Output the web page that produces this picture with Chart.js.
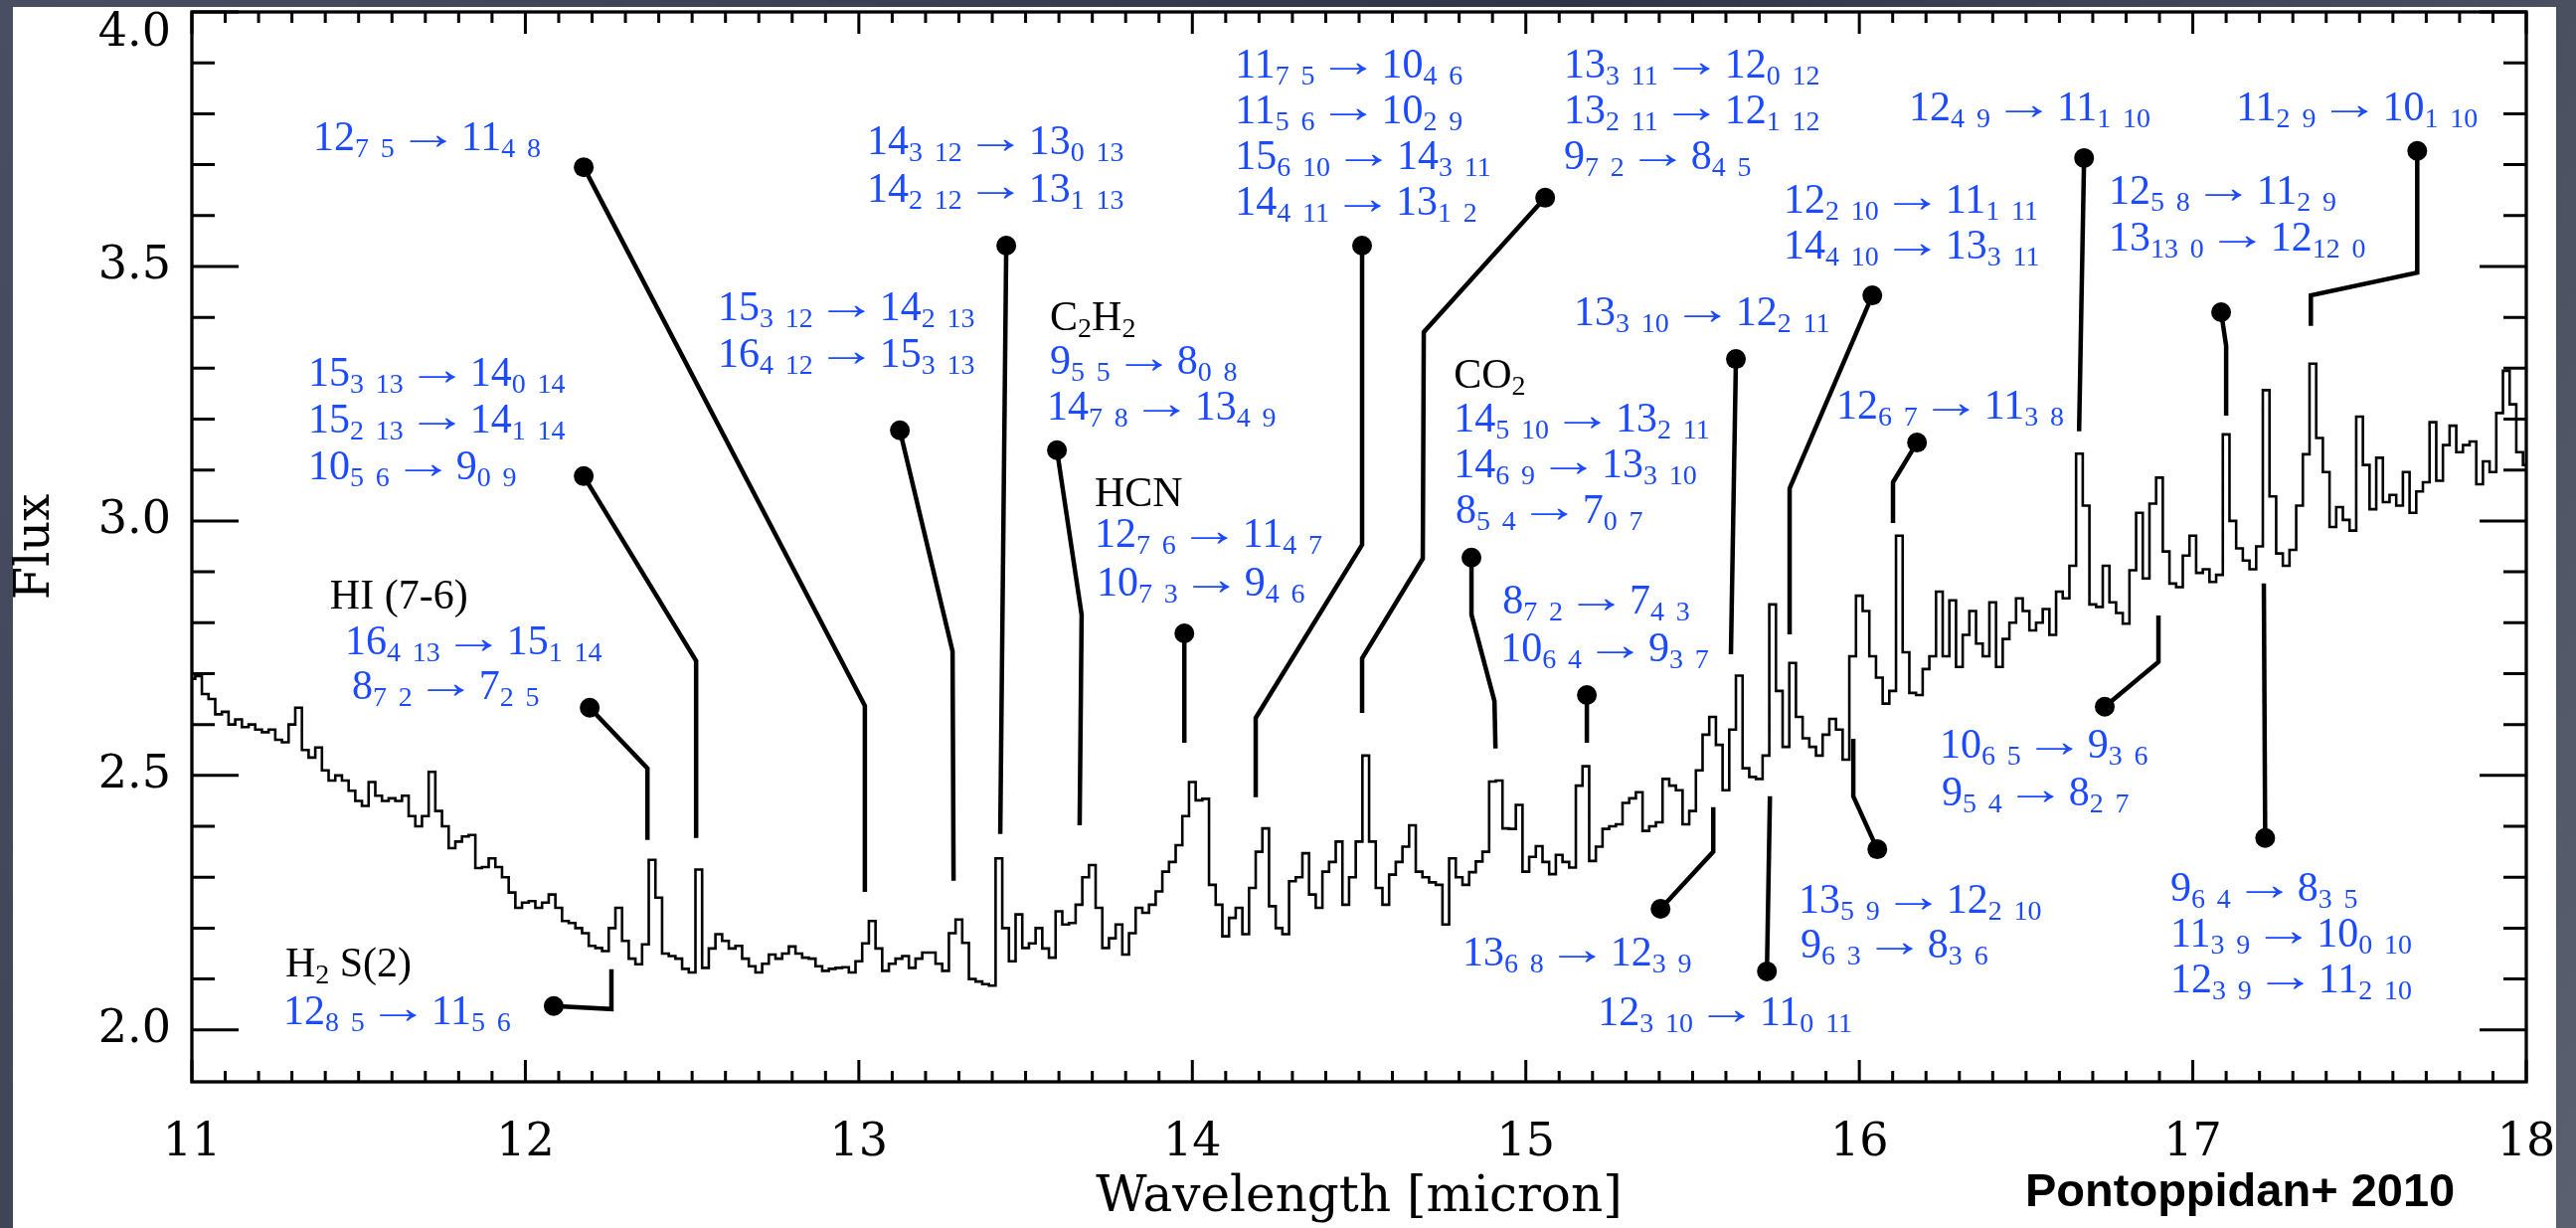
<!DOCTYPE html>
<html>
<head>
<meta charset="utf-8">
<script src="https://cdn.jsdelivr.net/npm/chart.js@4.4.1/dist/chart.umd.min.js"></script>
<style>
  html, body { margin: 0; padding: 0; background: #3b4150; overflow: hidden; }
  #wrap { width: 2591px; height: 1235px; position: relative; }
</style>
</head>
<body>
<div id="wrap"><canvas id="spec"></canvas></div>
<script>
// spectrum, sampled every 0.02 micron from 11.00 to 18.00
const wlStart = 11.0;
const wlStep = 0.02;
const flux = [
  2.690,2.695,2.660,2.650,2.620,2.625,2.600,2.610,2.595,2.600,
  2.590,2.585,2.590,2.570,2.565,2.600,2.633,2.550,2.535,2.555,
  2.510,2.490,2.500,2.490,2.470,2.450,2.440,2.487,2.460,2.450,
  2.455,2.450,2.460,2.420,2.400,2.420,2.507,2.430,2.400,2.357,
  2.370,2.380,2.383,2.318,2.320,2.337,2.320,2.300,2.270,2.240,
  2.250,2.253,2.240,2.250,2.266,2.240,2.214,2.210,2.200,2.190,
  2.165,2.161,2.155,2.200,2.240,2.175,2.140,2.129,2.168,2.334,
  2.260,2.150,2.145,2.140,2.120,2.113,2.315,2.122,2.160,2.188,
  2.175,2.160,2.165,2.140,2.125,2.113,2.130,2.148,2.140,2.150,
  2.164,2.150,2.142,2.140,2.125,2.116,2.120,2.122,2.123,2.113,
  2.135,2.170,2.214,2.160,2.116,2.130,2.140,2.145,2.122,2.140,
  2.152,2.152,2.130,2.116,2.190,2.217,2.171,2.100,2.095,2.090,
  2.087,2.337,2.200,2.135,2.227,2.161,2.170,2.200,2.160,2.142,
  2.233,2.207,2.210,2.246,2.300,2.324,2.240,2.161,2.180,2.207,
  2.148,2.190,2.240,2.230,2.246,2.272,2.311,2.330,2.363,2.420,
  2.487,2.451,2.454,2.285,2.246,2.184,2.220,2.240,2.188,2.279,
  2.350,2.396,2.243,2.200,2.188,2.292,2.300,2.347,2.266,2.240,
  2.311,2.330,2.370,2.246,2.300,2.370,2.539,2.370,2.279,2.246,
  2.305,2.330,2.360,2.402,2.311,2.300,2.290,2.285,2.207,2.337,
  2.300,2.285,2.310,2.331,2.350,2.488,2.490,2.396,2.395,2.442,
  2.311,2.340,2.361,2.330,2.306,2.344,2.330,2.319,2.480,2.518,
  2.332,2.360,2.395,2.400,2.404,2.446,2.455,2.467,2.391,2.400,
  2.408,2.493,2.480,2.471,2.404,2.430,2.510,2.580,2.615,2.560,
  2.471,2.590,2.696,2.514,2.497,2.493,2.539,2.836,2.666,2.556,
  2.721,2.615,2.573,2.556,2.539,2.580,2.611,2.590,2.531,2.734,
  2.853,2.823,2.734,2.692,2.641,2.666,2.971,2.742,2.662,2.658,
  2.709,2.734,2.861,2.734,2.844,2.713,2.776,2.823,2.759,2.734,
  2.840,2.713,2.768,2.800,2.848,2.823,2.785,2.800,2.827,2.776,
  2.861,2.848,2.912,3.132,3.030,2.836,2.831,2.912,2.840,2.819,
  2.798,2.903,3.016,2.887,3.034,3.085,2.940,2.877,2.870,2.932,
  2.971,2.898,2.905,2.880,2.894,3.170,3.000,2.946,2.922,2.905,
  2.950,3.257,3.048,2.936,2.912,2.943,3.030,3.131,3.309,3.163,
  3.096,2.988,3.027,3.002,2.981,3.205,3.110,3.023,3.124,3.037,
  3.051,3.030,3.096,3.016,3.058,3.076,3.194,3.079,3.149,3.187,
  3.135,3.149,3.156,3.072,3.117,3.096,3.212,3.295,3.229,3.135,
  3.110
];

const xTickLabels = [11, 12, 13, 14, 15, 16, 17, 18];
const yTickLabels = [2.0, 2.5, 3.0, 3.5, 4.0];

// leader lines: first point is the dot next to the label
const leaderPaths = [
  [[12.175,3.695],[13.018,2.637],[13.018,2.271]],
  [[12.175,3.088],[12.512,2.725],[12.512,2.377]],
  [[12.193,2.633],[12.366,2.514],[12.366,2.373]],
  [[12.085,2.047],[12.258,2.041],[12.258,2.119]],
  [[13.442,3.541],[13.424,2.385]],
  [[13.123,3.178],[13.281,2.744],[13.284,2.293]],
  [[13.594,3.139],[13.668,2.816],[13.662,2.402]],
  [[13.976,2.779],[13.976,2.564]],
  [[14.509,3.541],[14.509,2.953],[14.190,2.613],[14.190,2.457]],
  [[15.058,3.635],[14.694,3.371],[14.691,2.926],[14.509,2.730],[14.509,2.623]],
  [[14.837,2.928],[14.837,2.816],[14.906,2.646],[14.909,2.553]],
  [[15.183,2.658],[15.183,2.564]],
  [[15.630,3.318],[15.615,2.738]],
  [[16.039,3.443],[15.791,3.064],[15.791,2.777]],
  [[16.674,3.713],[16.659,3.176]],
  [[16.173,3.154],[16.101,3.076],[16.101,2.996]],
  [[17.085,3.410],[17.100,3.344],[17.100,3.207]],
  [[17.673,3.727],[17.673,3.488],[17.354,3.443],[17.354,3.383]],
  [[16.736,2.635],[16.897,2.723],[16.897,2.814]],
  [[17.217,2.377],[17.213,2.877]],
  [[16.054,2.355],[15.982,2.459],[15.982,2.572]],
  [[15.404,2.238],[15.562,2.350],[15.562,2.4375]],
  [[15.723,2.115],[15.732,2.459]]
];

// transition labels: text, wavelength and flux of the baseline start
const labelText = [
  '12_{7 5} → 11_{4 8}',
  '15_{3 13} → 14_{0 14}', '15_{2 13} → 14_{1 14}', '10_{5 6} → 9_{0 9}',
  'HI (7-6)', '16_{4 13} → 15_{1 14}', '8_{7 2} → 7_{2 5}',
  'H_{2} S(2)', '12_{8 5} → 11_{5 6}',
  '14_{3 12} → 13_{0 13}', '14_{2 12} → 13_{1 13}',
  '15_{3 12} → 14_{2 13}', '16_{4 12} → 15_{3 13}',
  'C_{2}H_{2}', '9_{5 5} → 8_{0 8}', '14_{7 8} → 13_{4 9}',
  'HCN', '12_{7 6} → 11_{4 7}', '10_{7 3} → 9_{4 6}',
  '11_{7 5} → 10_{4 6}', '11_{5 6} → 10_{2 9}', '15_{6 10} → 14_{3 11}', '14_{4 11} → 13_{1 2}',
  '13_{3 11} → 12_{0 12}', '13_{2 11} → 12_{1 12}', '9_{7 2} → 8_{4 5}',
  'CO_{2}', '14_{5 10} → 13_{2 11}', '14_{6 9} → 13_{3 10}', '8_{5 4} → 7_{0 7}',
  '8_{7 2} → 7_{4 3}', '10_{6 4} → 9_{3 7}',
  '13_{3 10} → 12_{2 11}',
  '12_{2 10} → 11_{1 11}', '14_{4 10} → 13_{3 11}',
  '12_{4 9} → 11_{1 10}',
  '12_{6 7} → 11_{3 8}',
  '12_{5 8} → 11_{2 9}', '13_{13 0} → 12_{12 0}',
  '11_{2 9} → 10_{1 10}',
  '10_{6 5} → 9_{3 6}', '9_{5 4} → 8_{2 7}',
  '9_{6 4} → 8_{3 5}', '11_{3 9} → 10_{0 10}', '12_{3 9} → 11_{2 10}',
  '13_{5 9} → 12_{2 10}', '9_{6 3} → 8_{3 6}',
  '13_{6 8} → 12_{3 9}',
  '12_{3 10} → 11_{0 11}'
];
const labelWl = [
  11.364,
  11.349, 11.349, 11.349,
  11.414, 11.459, 11.480,
  11.280, 11.274,
  13.024, 13.024,
  12.577, 12.577,
  13.573, 13.573, 13.564,
  13.707, 13.707, 13.713,
  14.128, 14.128, 14.128, 14.128,
  15.114, 15.114, 15.114,
  14.784, 14.784, 14.784, 14.789,
  14.930, 14.924,
  15.144,
  15.773, 15.773,
  16.149,
  15.931,
  16.748, 16.748,
  17.130,
  16.241, 16.247,
  16.933, 16.933, 16.933,
  15.818, 15.824,
  14.810,
  15.216
];
const labelFlux = [
  3.729,
  3.266, 3.174, 3.082,
  2.828, 2.738, 2.650,
  2.105, 2.012,
  3.721, 3.627,
  3.395, 3.303,
  3.375, 3.289, 3.199,
  3.029, 2.949, 2.854,
  3.871, 3.781, 3.691, 3.602,
  3.871, 3.781, 3.691,
  3.262, 3.176, 3.086, 2.996,
  2.818, 2.725,
  3.385,
  3.605, 3.516,
  3.787,
  3.201,
  3.623, 3.531,
  3.787,
  2.535, 2.441,
  2.254, 2.164, 2.074,
  2.230, 2.143,
  2.127,
  2.010
];

const BLUE = '#1c4bff';
const MAIN = 42, SUB = 28;
const ARROW_INK = 38;

function drawRich(ctx, str, x, y, color) {
  const parts = str.split(/(_\{[^}]*\}|→)/).filter(s => s.length);
  let cx = x;
  ctx.fillStyle = color;
  ctx.textBaseline = 'alphabetic';
  ctx.textAlign = 'left';
  for (const p of parts) {
    if (p.startsWith('_{')) {
      ctx.font = SUB + 'px "Liberation Serif"';
      p.slice(2, -1).split(' ').forEach((t, i) => {
        if (i) cx += SUB * 0.42;
        ctx.fillText(t, cx, y + 7);
        cx += ctx.measureText(t).width;
      });
    } else if (p === '→') {
      // long thin arrow: the serif glyph stretched sideways to its ink width
      ctx.font = MAIN + 'px "Liberation Serif"';
      const m = ctx.measureText(p);
      const ink = (m.actualBoundingBoxRight + m.actualBoundingBoxLeft) || m.width;
      const sx = ARROW_INK / ink;
      cx += 4;
      ctx.save();
      ctx.translate(cx + m.actualBoundingBoxLeft * sx, y - 1);
      ctx.scale(sx, 1.1);
      ctx.fillText(p, 0, 0);
      ctx.restore();
      cx += ARROW_INK + 4;
    } else {
      ctx.font = MAIN + 'px "Liberation Serif"';
      ctx.fillText(p, cx, y);
      cx += ctx.measureText(p).width;
    }
  }
}

const backdrop = {
  id: 'backdrop',
  beforeDraw(chart) {
    const {ctx, width, height} = chart;
    ctx.save();
    const g = ctx.createLinearGradient(0, 0, width, height);
    g.addColorStop(0, '#4a4e62');
    g.addColorStop(0.5, '#2e3545');
    g.addColorStop(1, '#5a6070');
    ctx.fillStyle = g;
    ctx.fillRect(0, 0, width, height);
    ctx.fillStyle = '#ffffff';
    ctx.fillRect(13, 7, 2571 - 13, height - 7);
    ctx.restore();
  }
};

const frame = {
  id: 'frame',
  afterDatasetsDraw(chart) {
    const {ctx, chartArea: a, scales: {x, y}} = chart;
    ctx.save();
    ctx.strokeStyle = '#000';
    ctx.lineWidth = 3;
    ctx.beginPath();
    for (let i = 0; i <= 70; i++) {
      const px = x.getPixelForValue(11 + i / 10);
      const L = i % 10 === 0 ? 22 : 11;
      ctx.moveTo(px, a.bottom); ctx.lineTo(px, a.bottom - L);
      ctx.moveTo(px, a.top); ctx.lineTo(px, a.top + L);
    }
    for (let i = 0; i <= 20; i++) {
      const py = y.getPixelForValue(2 + i / 10);
      const L = i % 5 === 0 ? 47 : 23;
      ctx.moveTo(a.left, py); ctx.lineTo(a.left + L, py);
      ctx.moveTo(a.right, py); ctx.lineTo(a.right - L, py);
    }
    ctx.stroke();
    ctx.lineWidth = 3.3;
    ctx.strokeRect(a.left, a.top, a.right - a.left, a.bottom - a.top);

    labelText.forEach((t, i) => {
      const col = t.includes('→') ? BLUE : '#000';
      drawRich(ctx, t, x.getPixelForValue(labelWl[i]), y.getPixelForValue(labelFlux[i]), col);
    });

    ctx.font = 'bold 47px "Liberation Sans"';
    ctx.fillStyle = '#000';
    ctx.textAlign = 'left';
    ctx.textBaseline = 'alphabetic';
    ctx.fillText('Pontoppidan+ 2010', 2037, 1213);
    ctx.restore();
  }
};

const datasets = [{
  data: flux.map((f, i) => ({x: wlStart + i * wlStep, y: f})),
  borderColor: '#000',
  borderWidth: 2.6,
  stepped: 'middle',
  pointRadius: 0
}];
leaderPaths.forEach(p => {
  datasets.push({
    data: p.map(q => ({x: q[0], y: q[1]})),
    borderColor: '#000',
    borderWidth: 4.5,
    pointRadius: c => c.dataIndex === 0 ? 10 : 0,
    pointBackgroundColor: '#000',
    pointBorderWidth: 0,
    borderCapStyle: 'butt'
  });
});

new Chart(document.getElementById('spec'), {
  type: 'line',
  data: {datasets},
  options: {
    responsive: true,
    maintainAspectRatio: false,
    animation: false,
    events: [],
    layout: {padding: {left: 0, right: 50, top: 12, bottom: 0}},
    plugins: {legend: {display: false}, tooltip: {enabled: false}},
    scales: {
      x: {
        type: 'linear', min: 11, max: 18,
        grid: {display: false, drawTicks: false},
        border: {display: false},
        ticks: {color: '#000', font: {family: 'DejaVu Serif', size: 46}, padding: 34, maxRotation: 0, autoSkip: false,
                callback: v => String(v)},
        afterBuildTicks: s => { s.ticks = xTickLabels.map(v => ({value: v})); },
        afterFit: s => { s.height = 147; s.paddingLeft = 0; s.paddingRight = 0; },
        title: {display: true, text: 'Wavelength [micron]', color: '#000',
                font: {family: 'DejaVu Serif', size: 50}, padding: {top: 0, bottom: 0}}
      },
      y: {
        type: 'linear', min: 1.898, max: 4.0,
        grid: {display: false, drawTicks: false},
        border: {display: false},
        ticks: {color: '#000', font: {family: 'DejaVu Serif', size: 46, lineHeight: 0.95}, padding: 21,
                callback: v => v === 4 ? ['', '4.0'] : v.toFixed(1)},
        afterBuildTicks: s => { s.ticks = yTickLabels.map(v => ({value: v})); },
        afterFit: s => { s.width = 193; s.paddingTop = 0; s.paddingBottom = 0; },
        title: {display: true, text: 'Flux', color: '#000',
                font: {family: 'DejaVu Serif', size: 48}, padding: {top: 8, bottom: 0}}
      }
    }
  },
  plugins: [backdrop, frame]
});
</script>
</body>
</html>
